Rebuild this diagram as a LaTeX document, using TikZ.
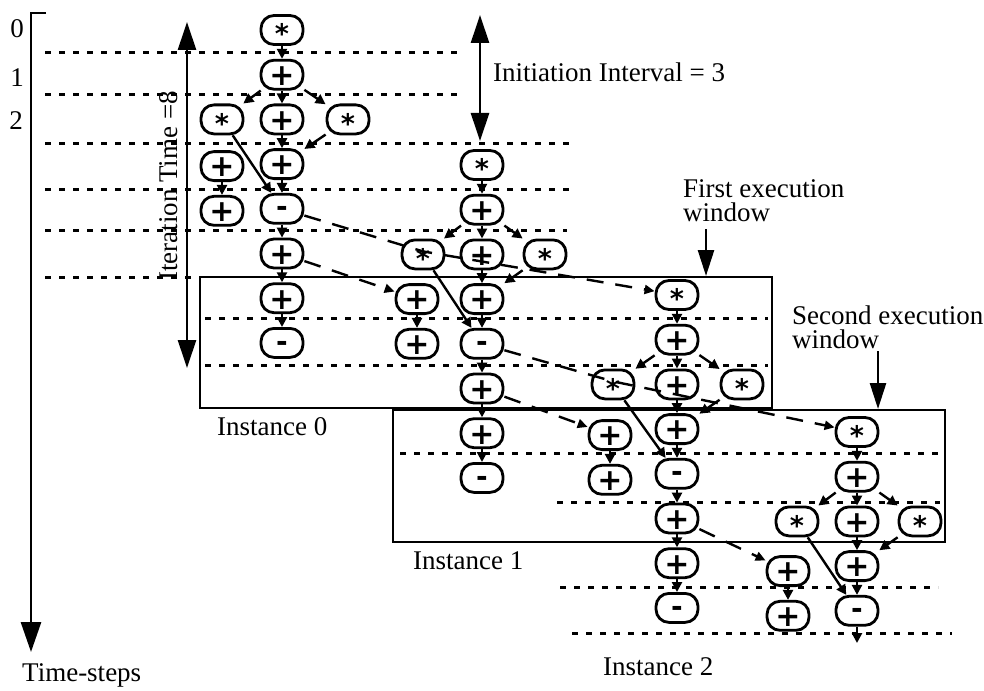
\documentclass[tikz,border=0pt]{standalone}
\usepackage{fontspec}
\setmainfont{Liberation Serif}
\newfontfamily\opfont{DejaVu Sans}
\usetikzlibrary{arrows.meta,calc}

% the asterisk sits high in the font, so it is lowered towards the middle
\newcommand\mulsign{\raisebox{-4pt}{*}}

% Rows 0-4 of one operation graph: #1 prefix, #2 main column x, #3 first row y,
% #4 left multiply x, #5 right multiply x, #6 side adder x, #7 side adder y shift
\newcommand\opcore[7]{%
  \node[opstar]  (#1t)  at (#2,#3) {\mulsign};
  \node[opplus]  (#1a)  at (#2,{#3+44.7}) {+};
  \node[opstar]  (#1sl) at (#4,{#3+89.4}) {\mulsign};
  \node[opplus]  (#1b)  at (#2,{#3+89.4}) {+};
  \node[opstar]  (#1sr) at (#5,{#3+89.4}) {\mulsign};
  \node[opplus]  (#1c)  at (#2,{#3+134.1}) {+};
  \node[opplus]  (#1pu) at (#6,{#3+134.1+#7}) {+};
  \node[opplus]  (#1pd) at (#6,{#3+178.8+#7}) {+};
  \node[opminus] (#1m)  at (#2,{#3+178.8}) {-};
  \draw[flow] (#1t) -- (#1a);
  \draw[flow] (#1a) -- (#1sl);
  \draw[flow] (#1a) -- (#1b);
  \draw[flow] (#1a) -- (#1sr);
  \draw[flow] (#1b) -- (#1c);
  \draw[flow] (#1sr) -- (#1c);
  \draw[flow] (#1c) -- (#1m);
  \draw[flow] (#1sl) -- (#1m);
  \draw[flow] (#1pu) -- (#1pd);
}
% Rows 5-7 of the same graph
\newcommand\optail[3]{%
  \node[opplus]  (#1d) at (#2,{#3+223.5}) {+};
  \node[opplus]  (#1e) at (#2,{#3+268.2}) {+};
  \node[opminus] (#1f) at (#2,{#3+312.9}) {-};
  \draw[flow] (#1m) -- (#1d);
  \draw[flow] (#1d) -- (#1e);
  \draw[flow] (#1e) -- (#1f);
}

\begin{document}
\begin{tikzpicture}[x=1pt,y=-1pt,
  op/.style={draw,line width=2.8pt,fill=white,rounded corners=13pt,
    minimum width=42pt,minimum height=29pt,inner sep=0pt,text depth=0pt},
  opplus/.style={op,text height=21.6pt,
    font={\opfont\bfseries\fontsize{30}{30}\selectfont}},
  opstar/.style={op,text height=19.4pt,
    font={\opfont\bfseries\fontsize{27}{27}\selectfont}},
  opminus/.style={op,text height=16.2pt,
    font={\opfont\bfseries\fontsize{28}{28}\selectfont}},
  flow/.style={line width=2.4pt,-{Triangle[length=10pt,width=10pt]}},
  dep/.style={line width=2.4pt,dash pattern=on 17pt off 12pt,
    -{Triangle[length=10pt,width=9pt]}},
  stepline/.style={line width=3pt,dash pattern=on 6pt off 8pt},
  window/.style={line width=2.8pt},
  axisline/.style={line width=2.8pt,-{Triangle[length=30pt,width=20pt]}},
  span/.style={line width=2.6pt,
    {Triangle[length=28pt,width=18pt]}-{Triangle[length=28pt,width=18pt]}},
  pointer/.style={line width=2.6pt,-{Triangle[length=26pt,width=16pt]}},
  lbl/.style={font=\fontsize{27}{24}\selectfont,inner sep=0pt},
]
\useasboundingbox (0,0) rectangle (984,690);
\fill[white] (0,0) rectangle (984,690);

% time-step boundaries
\draw[stepline] (45,53) -- (457,53);
\draw[stepline] (45,95) -- (457,95);
\draw[stepline] (45,143) -- (573,143);
\draw[stepline] (45,189) -- (570,189);
\draw[stepline] (45,230) -- (567,230);
\draw[stepline] (45,277) -- (200,277);
\draw[stepline] (205,318) -- (768,318);
\draw[stepline] (205,365) -- (768,365);
\draw[stepline] (400,453) -- (940,453);
\draw[stepline] (557,502) -- (940,502);
\draw[stepline] (560,587) -- (938,587);
\draw[stepline] (572,633) -- (952,633);

% execution windows
\draw[window] (200,277) rectangle (772,408);
\draw[window] (393,410) rectangle (945,542);

% four overlapped iterations of the loop body
\opcore{I0}{282}{30}{222}{348}{222}{2}
\optail{I0}{282}{30}
\opcore{I1}{482}{165}{423}{545}{417}{0}
\optail{I1}{482}{165}
\opcore{I2}{677}{295}{613}{742}{610}{6}
\optail{I2}{677}{295}
\opcore{I3}{857}{432}{797}{920}{788}{5}
\coordinate (I3out) at (857,643);
\draw[flow] (I3m) -- (I3out);

% loop-carried dependences
\draw[dep] (I0m) -- ($(I1sl.center)+(0,-3)$) -- (I2t);
\draw[dep] (I1m) -- ($(I2sl.center)+(0,-3)$) -- (I3t);
\draw[dep] (I0d) -- (I1pu);
\draw[dep] (I1d) -- (I2pu);
\draw[dep] (I2d) -- (I3pu);

% time axis
\coordinate (axtick) at (46,13);
\coordinate (axtop) at (31,13);
\coordinate (axend) at (31,652);
\draw[axisline] (axtick) -- (axtop) -- (axend);
\node[lbl,anchor=base] (ts0) at (17,38) {0};
\node[lbl,anchor=base] (ts1) at (17,87) {1};
\node[lbl,anchor=base] (ts2) at (16,129) {2};
\node[lbl,anchor=base west] (tsname) at (22,681) {Time-steps};

% iteration time
\coordinate (itA) at (187,22);
\coordinate (itB) at (187,368);
\draw[span] (itA) -- (itB);
\node[lbl,rotate=90,anchor=base] (itname) at (177,186) {Iteration Time =8};

% initiation interval
\coordinate (iiA) at (480,15);
\coordinate (iiB) at (480,141);
\draw[span] (iiA) -- (iiB);
\node[lbl,anchor=base west] (iiname) at (493,82) {Initiation Interval = 3};

% window captions
\node[lbl,anchor=north west,align=left] (fw) at (683,179) {First execution\\window};
\coordinate (fwA) at (706,229);
\coordinate (fwB) at (706,276);
\draw[pointer] (fwA) -- (fwB);
\node[lbl,anchor=north west,align=left] (sw) at (792,306) {Second execution\\window};
\coordinate (swA) at (878,351);
\coordinate (swB) at (878,409);
\draw[pointer] (swA) -- (swB);

% instance captions
\node[lbl,anchor=base west] (in0) at (217,435) {Instance 0};
\node[lbl,anchor=base west] (in1) at (413,569) {Instance 1};
\node[lbl,anchor=base west] (in2) at (603,675) {Instance 2};
\end{tikzpicture}
\end{document}
